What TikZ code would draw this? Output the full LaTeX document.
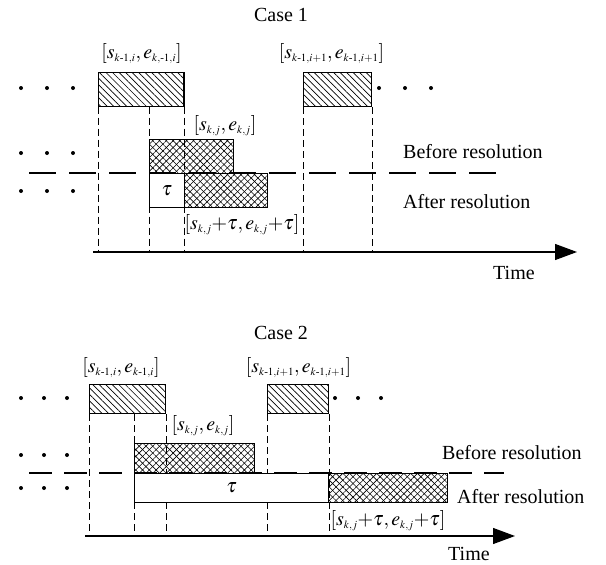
\documentclass[tikz,border=0pt]{standalone}
\usepackage{amsmath}
\usepackage{mathptmx}
\usepackage{fontspec}
\setmainfont{Liberation Serif}
\DeclareMathSizes{20}{20}{11}{9}
\usetikzlibrary{patterns.meta,arrows.meta,positioning}

\begin{document}
\begin{tikzpicture}[x=1pt,y=-1pt,
  every node/.style={font=\fontsize{20}{24}\selectfont, inner sep=0pt},
  oldjob/.style={draw, line width=1.4pt, anchor=north west,
    pattern={Lines[angle=-45,distance=4.6pt,line width=0.7pt]}},
  newjob/.style={draw, line width=1.4pt, anchor=north west,
    pattern={Lines[angle=45,distance=4.8pt,line width=0.6pt]},
    postaction={pattern={Lines[angle=-45,distance=4.8pt,line width=0.6pt]}}},
  gapbox/.style={draw, line width=1.4pt, anchor=north west, fill=white},
  guide/.style={dash pattern=on 7pt off 4pt, line width=1pt},
  split/.style={dash pattern=on 27pt off 13pt, line width=1.2pt},
  timeaxis/.style={line width=1.2pt, -{Triangle[length=22pt,width=16pt]}}]
\useasboundingbox (0,0) rectangle (606,565);

% ---------- Case 1 ----------
\node (case1) at (281,15) {Case 1};
\coordinate (o1) at (93,252);
\coordinate (e1) at (577,252);
\coordinate (m1) at (29,173);
\coordinate (n1) at (496,173);
\draw[split] (m1) -- (n1);
\node[oldjob, minimum width=85.5pt, minimum height=34pt] (a1) at (98,72) {};
\node[oldjob, minimum width=68pt, minimum height=34pt] (a2) at (303,72) {};
\node[newjob, minimum width=84pt, minimum height=34pt] (b0) at (149,139) {};
\draw[guide] (a1.south west) -- (a1.south west |- o1);
\draw[guide] (a1.south -| b0.west) -- (o1 -| b0.west);
\draw[guide] (a1.south east) -- (a1.south east |- o1);
\draw[guide] (a2.south west) -- (a2.south west |- o1);
\draw[guide] (a2.south east) -- (a2.south east |- o1);
\node[gapbox, minimum width=34.5pt, minimum height=34pt] (t1) at (149,173) {$\tau$};
\node[newjob, minimum width=83.5pt, minimum height=34pt] (b1) at (183.5,173) {};
\draw[timeaxis] (o1) -- (e1);
\node (l11) at (141.5,54) {$[s_{k\text{-}1,i}, e_{k,\text{-}1,i}]$};
\node (l12) at (331.5,54) {$[s_{k\text{-}1,i+1}, e_{k\text{-}1,i+1}]$};
\node (l13) at (225,126) {$[s_{k,j}, e_{k,j}]$};
\node (l14) at (242,225) {$[s_{k,j}{+}\tau, e_{k,j}{+}\tau]$};
\node[anchor=west] (br1) at (403,152) {Before resolution};
\node[anchor=west] (ar1) at (403,202) {After resolution};
\node[anchor=west] (time1) at (493,273) {Time};
\foreach \x in {21,47,73} {
  \fill (\x,88) circle (2pt);
  \fill (\x,153) circle (2pt);
  \fill (\x,191) circle (2pt);
}
\foreach \x in {379,405,431} \fill (\x,88) circle (2pt);

% ---------- Case 2 ----------
\node (case2) at (281,333) {Case 2};
\coordinate (o2) at (85,536);
\coordinate (e2) at (515,536);
\coordinate (m2) at (29,473);
\coordinate (n2) at (504,473);
\draw[split, dash pattern=on 23pt off 12pt] (m2) -- (n2);
\node[oldjob, minimum width=76pt, minimum height=29pt] (c1) at (89,384) {};
\node[oldjob, minimum width=61pt, minimum height=29pt] (c2) at (267,384) {};
\node[newjob, minimum width=120pt, minimum height=30pt] (d0) at (134,443) {};
\draw[guide] (c1.south west) -- (c1.south west |- o2);
\draw[guide] (c1.south -| d0.west) -- (o2 -| d0.west);
\draw[guide] (c1.south east) -- (c1.south east |- o2);
\draw[guide] (c2.south west) -- (c2.south west |- o2);
\draw[guide] (c2.south east) -- (c2.south east |- o2);
\node[gapbox, minimum width=194pt, minimum height=29pt] (t2) at (134,473) {$\tau$};
\node[newjob, minimum width=119pt, minimum height=29pt] (d1) at (328,473) {};
\draw[timeaxis] (o2) -- (e2);
\node (l21) at (121,368) {$[s_{k\text{-}1,i}, e_{k\text{-}1,i}]$};
\node (l22) at (298.5,368) {$[s_{k\text{-}1,i+1}, e_{k\text{-}1,i+1}]$};
\node (l23) at (203,426) {$[s_{k,j}, e_{k,j}]$};
\node (l24) at (388,521) {$[s_{k,j}{+}\tau, e_{k,j}{+}\tau]$};
\node[anchor=west] (br2) at (442,453) {Before resolution};
\node[anchor=west] (ar2) at (457,497) {After resolution};
\node[anchor=west] (time2) at (448,554) {Time};
\foreach \x in {21,44,67} {
  \fill (\x,398) circle (2pt);
  \fill (\x,455) circle (2pt);
  \fill (\x,488) circle (2pt);
}
\foreach \x in {335,358,381} \fill (\x,398) circle (2pt);
\end{tikzpicture}
\end{document}
